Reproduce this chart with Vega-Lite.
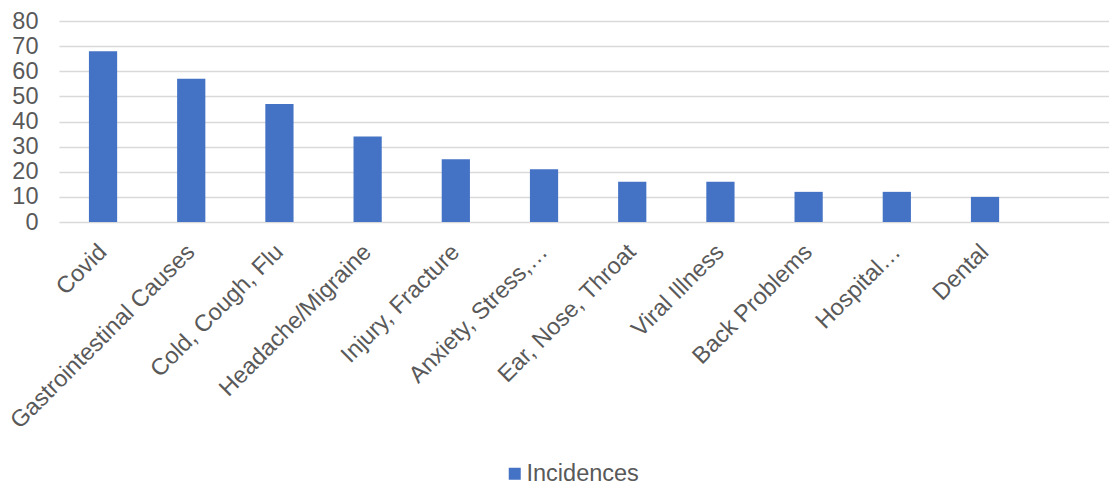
{
  "$schema": "https://vega.github.io/schema/vega-lite/v6.json",
  "autosize": "none",
  "width": 1050,
  "height": 201,
  "padding": {"left": 59, "top": 21, "right": 0, "bottom": 268},
  "background": "white",
  "config": {
    "view": {"stroke": null},
    "font": "Liberation Sans",
    "axis": {"labelFont": "Liberation Sans", "labelColor": "#595959", "labelFontSize": 23.5}
  },
  "data": {
    "values": [
      {"cause": "Covid", "series": "Incidences", "value": 68},
      {"cause": "Gastrointestinal Causes", "series": "Incidences", "value": 57},
      {"cause": "Cold, Cough, Flu", "series": "Incidences", "value": 47},
      {"cause": "Headache/Migraine", "series": "Incidences", "value": 34},
      {"cause": "Injury, Fracture", "series": "Incidences", "value": 25},
      {"cause": "Anxiety, Stress,…", "series": "Incidences", "value": 21},
      {"cause": "Ear, Nose, Throat", "series": "Incidences", "value": 16},
      {"cause": "Viral Illness", "series": "Incidences", "value": 16},
      {"cause": "Back Problems", "series": "Incidences", "value": 12},
      {"cause": "Hospital…", "series": "Incidences", "value": 12},
      {"cause": "Dental", "series": "Incidences", "value": 10}
    ]
  },
  "mark": {"type": "bar", "color": "#4472C4"},
  "encoding": {
    "x": {
      "field": "cause",
      "type": "nominal",
      "sort": null,
      "scale": {
        "domain": ["Covid", "Gastrointestinal Causes", "Cold, Cough, Flu", "Headache/Migraine", "Injury, Fracture", "Anxiety, Stress,…", "Ear, Nose, Throat", "Viral Illness", "Back Problems", "Hospital…", "Dental", " "],
        "paddingInner": 0.68,
        "paddingOuter": 0.2925,
        "align": 0.58
      },
      "axis": {
        "title": null,
        "labelAngle": -45,
        "labelAlign": "right",
        "labelBaseline": "middle",
        "labelPadding": 26,
        "ticks": false,
        "domain": false,
        "labelOverlap": false,
        "labelLimit": 400
      }
    },
    "y": {
      "field": "value",
      "type": "quantitative",
      "scale": {"domain": [0, 80], "nice": false},
      "axis": {
        "title": null,
        "values": [0, 10, 20, 30, 40, 50, 60, 70, 80],
        "grid": true,
        "gridColor": "#d9d9d9",
        "gridWidth": 1.5,
        "ticks": false,
        "domain": false,
        "labelPadding": 21
      }
    },
    "color": {
      "field": "series",
      "type": "nominal",
      "scale": {"range": ["#4472C4"]},
      "legend": {
        "title": null,
        "orient": "none",
        "legendX": 444,
        "legendY": 441,
        "symbolType": "square",
        "symbolSize": 144,
        "symbolStrokeWidth": 0,
        "labelFont": "Liberation Sans",
        "labelFontSize": 23.5,
        "labelColor": "#595959",
        "labelOffset": 0
      }
    }
  }
}
